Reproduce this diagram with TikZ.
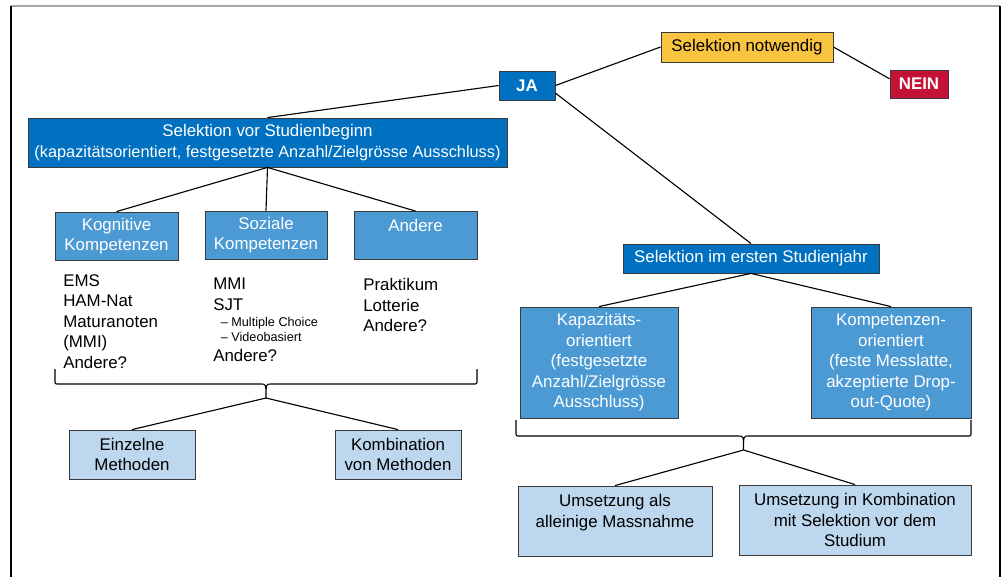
\documentclass[tikz,border=0pt]{standalone}
\usepackage{fontspec}
\setmainfont{Liberation Sans}

\definecolor{dkblue}{HTML}{0070C0}
\definecolor{mdblue}{HTML}{4B9AD4}
\definecolor{ltblue}{HTML}{BDD7EE}
\definecolor{selyellow}{HTML}{F9C440}
\definecolor{neinred}{HTML}{C41236}
\definecolor{boxline}{HTML}{3A3A3A}

\begin{document}
\begin{tikzpicture}[
  x=0.025cm,
  y=-0.025cm,
  font=\fontsize{12}{14.6}\selectfont,
  line/.style={draw=black,line width=0.8pt},
  box/.style={draw=boxline,line width=0.6pt,align=center,inner sep=0pt},
  dkbox/.style={box,fill=dkblue,text=white},
  mdbox/.style={box,fill=mdblue,text=white},
  ltbox/.style={box,fill=ltblue,text=black},
  itemlist/.style={align=left,anchor=north west,inner sep=0pt}
]
\useasboundingbox (0,0) rectangle (1004,577);

% ---------------------------------------------------------------- frame
\draw[gray!70,line width=1.5pt] (11,6) -- (1000,6);
\draw[black,line width=0.8pt] (11,6) -- (11,577);
\draw[black,line width=0.8pt] (1000,6) -- (1000,577);

% ---------------------------------------------------------------- top decision
\node[box,fill=selyellow,minimum width=4.3cm,minimum height=0.75cm] (notw) at (747,47) {Selektion notwendig};
\node[box,fill=neinred,text=white,font=\fontsize{12}{14.6}\selectfont\bfseries,
      minimum width=1.45cm,minimum height=0.7cm] (nein) at (919,84) {NEIN};
\node[dkbox,font=\fontsize{12}{14.6}\selectfont\bfseries,
      minimum width=1.4cm,minimum height=0.725cm] (ja) at (527,85.5) {JA};

\draw[line] (ja.east) -- (notw.west);
\draw[line] (notw.east) -- (nein.170);

% ---------------------------------------------------------------- left branch: before studies
\node[dkbox,minimum width=11.975cm,minimum height=1.225cm] (vor) at (267.5,142.5)
  {Selektion vor Studienbeginn\\
   {\fontsize{11.6}{14.6}\selectfont(kapazitätsorientiert, festgesetzte Anzahl/Zielgrösse Ausschluss)}};
\draw[line] (ja.west) -- (vor.north);

\node[mdbox,minimum width=3.075cm,minimum height=1.2cm] (kog) at (116.5,236) {Kognitive\\Kompetenzen};
\node[mdbox,minimum width=3.05cm,minimum height=1.2cm] (soz) at (266,235) {Soziale\\Kompetenzen};
\node[mdbox,minimum width=3.075cm,minimum height=1.2cm] (and) at (415.5,235.5) {Andere\\~};
\foreach \b in {kog,soz,and}
  \draw[line] (vor.south) -- (\b.north);

% lists of methods
\node[itemlist] (koglist) at (63,274) {EMS\\HAM-Nat\\Maturanoten\\(MMI)\\Andere?};
\node[itemlist] (sozlist) at (213,278)
  {MMI\\SJT\\[-3.5pt]
   {\fontsize{9}{11}\selectfont\hspace*{0.6em}– Multiple Choice}\\[-3.9pt]
   {\fontsize{9}{11}\selectfont\hspace*{0.6em}– Videobasiert}\\
   Andere?};
\node[itemlist] (andlist) at (363,278) {Praktikum\\Lotterie\\Andere?};

% curly brace gathering the three groups
\coordinate (tipL) at (266,398);
\draw[line] (55,369) -- (55,380) .. controls (55,384) .. (59,384) -- (261,384)
  .. controls (266,384) .. (tipL) .. controls (266,384) .. (271,384) -- (473,384)
  .. controls (477,384) .. (477,380) -- (477,369);

\node[ltbox,minimum width=3.15cm,minimum height=1.225cm] (einz) at (132,454.5) {Einzelne\\Methoden};
\node[ltbox,minimum width=3.15cm,minimum height=1.225cm] (kombi) at (398,454.5) {Kombination\\von Methoden};
\draw[line] (tipL) -- (einz.north);
\draw[line] (tipL) -- (kombi.north);

% ---------------------------------------------------------------- right branch: first year
\node[dkbox,minimum width=6.4cm,minimum height=0.725cm] (erst) at (751,258.5) {Selektion im ersten Studienjahr};
\draw[line] (ja.-15) -- (erst.north);

\node[mdbox,minimum width=3.95cm,minimum height=2.775cm] (kap) at (599,362.5)
  {Kapazitäts-\\orientiert\\(festgesetzte\\Anzahl/Zielgrösse\\Ausschluss)};
\node[mdbox,minimum width=4.0cm,minimum height=2.775cm] (komp) at (891,362.5)
  {Kompetenzen-\\orientiert\\(feste Messlatte,\\akzeptierte Drop-\\out-Quote)};
\draw[line] (erst.south) -- (kap.north);
\draw[line] (erst.south) -- (komp.north);

\coordinate (tipR) at (743.5,450);
\draw[line] (516,420) -- (516,432) .. controls (516,436) .. (520,436) -- (738.5,436)
  .. controls (743.5,436) .. (tipR) .. controls (743.5,436) .. (748.5,436) -- (967,436)
  .. controls (971,436) .. (971,432) -- (971,420);

\node[ltbox,minimum width=4.85cm,minimum height=1.75cm] (ums1) at (615,521)
  {Umsetzung als\\alleinige Massnahme\\~};
\node[ltbox,minimum width=5.8cm,minimum height=1.75cm] (ums2) at (855,520)
  {Umsetzung in Kombination\\mit Selektion vor dem\\Studium};
\draw[line] (tipR) -- (ums1.north);
\draw[line] (tipR) -- (ums2.north);

\end{tikzpicture}
\end{document}
